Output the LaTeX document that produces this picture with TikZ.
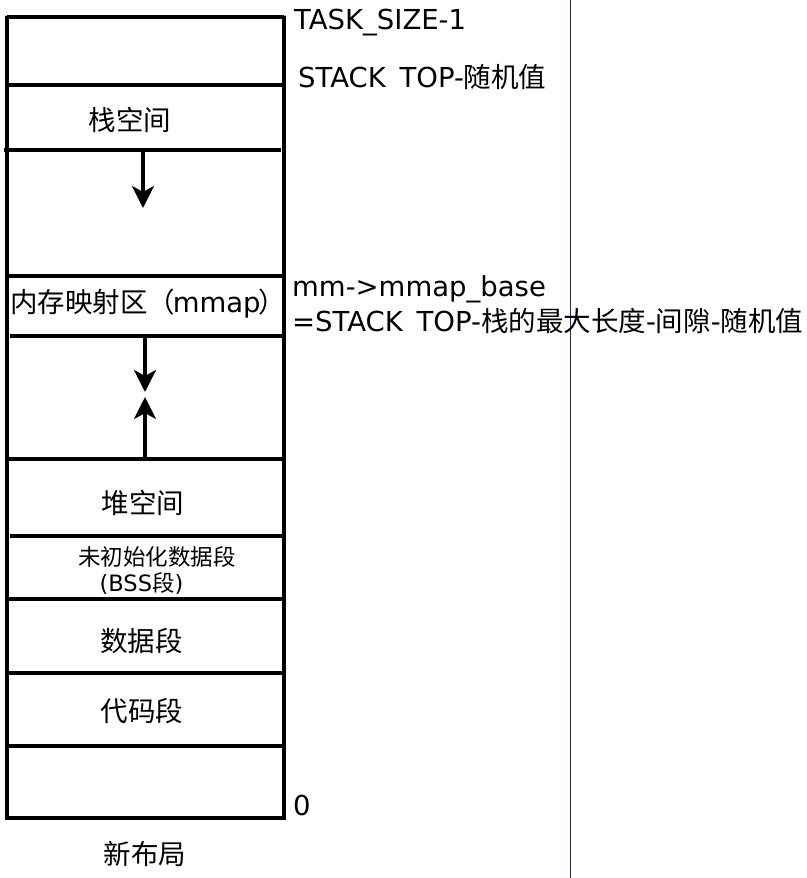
\documentclass[tikz,border=0pt]{standalone}
\usepackage{fontspec}
\setmainfont{DejaVu Sans}
\newfontfamily\cjk{Noto Sans CJK SC}
\usetikzlibrary{arrows.meta}
\definecolor{guideblue}{RGB}{30,30,175}
\begin{document}
\begin{tikzpicture}[x=1pt,y=-1pt,
  wallline/.style={line width=3.5pt},
  growarrow/.style={line width=3.5pt,-{Stealth[length=22pt,width=22pt,inset=6pt]}},
  lbl/.style={inner sep=0pt,font=\fontsize{27.5}{31}\selectfont},
  smalllbl/.style={inner sep=0pt,font=\fontsize{22.5}{26}\selectfont},
  guideline/.style={line width=1pt,draw=guideblue},
  cpmark/.style={draw=guideblue,line width=0.5pt}]
\useasboundingbox (0,0) rectangle (806,878);
\fill[white] (0,0) rectangle (806,878);
% blue guide line
\draw[guideline] (570,0) -- (570,878);
% tiny control-point marks
\foreach \p in {(7,17),(145,17),(284,17),(143,85),(143,150),(145,276),(145,336),(145,365),(7,417),(284,417),(145,427),(145,459),(148,536),(148,599),(145,673),(147,746),(7,818),(145,818),(284,818)}{
  \draw[cpmark] \p ++(-1.5,-1.5) -- ++(3,3) \p ++(-1.5,1.5) -- ++(3,-3);
}
% outer walls
\draw[wallline] (7,17) -- (284,17);
\draw[wallline] (7,15.5) -- (7,819.5);
\draw[wallline] (284,15.5) -- (284,819.5);
\draw[wallline] (7,818) -- (284,818);
% separators
\draw[wallline] (5,85) -- (282,85);
\draw[wallline] (4,150) -- (281,150);
\draw[wallline] (7,276) -- (284,276);
\draw[wallline] (10,336) -- (284,336);
\draw[wallline] (7,459) -- (284,459);
\draw[wallline] (10,536) -- (284,536);
\draw[wallline] (7,599) -- (284,599);
\draw[wallline] (7,673) -- (284,673);
\draw[wallline] (7,746) -- (284,746);
% arrows
\coordinate (s0) at (143,150);
\coordinate (s1) at (143,208);
\coordinate (m0) at (145,336);
\coordinate (m1) at (145,392);
\coordinate (h0) at (145,459);
\coordinate (h1) at (145,397);
\draw[growarrow] (s0) -- (s1);
\draw[growarrow] (m0) -- (m1);
\draw[growarrow] (h0) -- (h1);
% labels inside
\node[lbl,anchor=base] (mmap) at (148,312) {{\cjk 内存映射区（}\kern-2.5pt mmap\kern-2.5pt{\cjk ）}};
\node[lbl] (stack) at (130,119.5) {\cjk 栈空间};
\node[lbl] (heap) at (143,503) {\cjk 堆空间};
\node[smalllbl] (bss1) at (157,556.5) {\cjk 未初始化数据段};
\node[smalllbl,anchor=base] (bss2) at (141.5,591) {(BSS{\cjk 段})};
\node[lbl] (data) at (141.5,641) {\cjk 数据段};
\node[lbl] (code) at (142,711) {\cjk 代码段};
\node[lbl] (title) at (145,853.5) {\cjk 新布局};
% labels outside
\node[lbl,anchor=base west] (tasksize) at (294,29.5) {TASK\_SIZE-1};
\node[lbl,anchor=base west] (stacktop) at (298,87.5) {STACK\hspace{0.5em}TOP-{\cjk 随机值}};
\node[lbl,anchor=base west] (mmapbase) at (292,296) {mm->mmap\_base};
\node[lbl,anchor=base west] (formula) at (292,331.5) {=STACK\hspace{0.5em}TOP-{\cjk 栈的最大长度}-{\cjk 间隙}-{\cjk 随机值}};
\node[lbl,anchor=base west] (zero) at (293,815) {0};
\end{tikzpicture}
\end{document}
